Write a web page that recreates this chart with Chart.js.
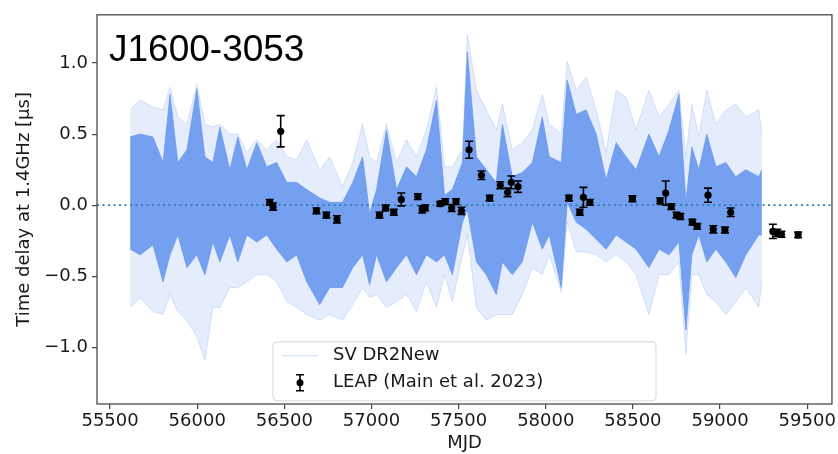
<!DOCTYPE html>
<html>
<head>
<meta charset="utf-8">
<script src="https://cdn.jsdelivr.net/npm/chart.js@4.4.1/dist/chart.umd.min.js"></script>
<style>
  html, body { margin: 0; padding: 0; background: #fff; }
  #wrap { width: 838px; height: 454px; }
</style>
</head>
<body>
<div id="wrap"><canvas id="delayChart" width="838" height="454"></canvas></div>
<script>
const bandMjd = [55615, 55672, 55746, 55804, 55844, 55889, 55941, 55998, 56044, 56090,
  56130, 56187, 56233, 56285, 56342, 56399, 56456, 56514, 56571, 56628,
  56703, 56760, 56834, 56892, 56949, 56989, 57029, 57086, 57144, 57201,
  57258, 57315, 57373, 57419, 57464, 57522, 57550, 57602, 57659, 57716,
  57751, 57808, 57865, 57923, 57980, 58020, 58089, 58123, 58175, 58232,
  58289, 58346, 58404, 58461, 58518, 58592, 58650, 58707, 58764, 58804,
  58838, 58878, 58924, 58976, 59033, 59090, 59148, 59222, 59240];
const faintUpper = [0.67, 0.74, 0.69, 0.67, 0.83, 0.62, 0.57, 0.85, 0.57, 0.55,
  0.57, 0.50, 0.50, 0.37, 0.46, 0.39, 0.46, 0.34, 0.32, 0.46,
  0.25, 0.34, 0.13, 0.30, 0.57, 0.34, 0.30, 0.57, 0.30, 0.46,
  0.34, 0.53, 0.83, 0.27, 0.27, 0.39, 1.20, 0.81, 0.67, 0.53,
  0.71, 0.39, 0.44, 0.53, 0.78, 0.57, 0.50, 1.01, 0.81, 0.90,
  0.67, 0.37, 0.81, 0.76, 0.53, 0.81, 0.62, 0.71, 0.81, 0.34,
  0.71, 0.48, 0.81, 0.57, 0.67, 0.71, 0.62, 0.67, 0.50];
const denseUpper = [0.48, 0.50, 0.48, 0.30, 0.78, 0.30, 0.39, 0.82, 0.34, 0.30,
  0.55, 0.25, 0.48, 0.25, 0.44, 0.27, 0.30, 0.16, 0.16, 0.11,
  0.05, 0.02, 0.02, 0.16, 0.34, -0.06, 0.11, 0.53, 0.11, 0.27,
  0.20, 0.39, 0.74, 0.07, 0.11, 0.30, 1.08, 0.34, 0.25, 0.16,
  0.57, 0.20, 0.23, 0.30, 0.62, 0.34, 0.30, 0.88, 0.64, 0.67,
  0.50, 0.18, 0.44, 0.34, 0.25, 0.50, 0.34, 0.53, 0.78, 0.02,
  0.41, 0.25, 0.50, 0.27, 0.30, 0.20, 0.25, 0.20, 0.25];
const denseLower = [-0.31, -0.35, -0.28, -0.54, -0.35, -0.21, -0.44, -0.35, -0.49, -0.26,
  -0.40, -0.21, -0.40, -0.21, -0.26, -0.21, -0.31, -0.40, -0.35, -0.54,
  -0.70, -0.58, -0.58, -0.44, -0.35, -0.56, -0.35, -0.54, -0.44, -0.35,
  -0.49, -0.35, -0.40, -0.35, -0.49, -0.12, -0.03, -0.40, -0.49, -0.63,
  -0.40, -0.49, -0.40, -0.12, -0.31, -0.21, -0.58, 0.02, -0.12, -0.17,
  -0.24, -0.31, -0.21, -0.26, -0.31, -0.44, -0.31, -0.35, -0.26, -0.88,
  -0.35, -0.21, -0.40, -0.31, -0.40, -0.51, -0.35, -0.21, -0.21];
const faintLower = [-0.72, -0.65, -0.75, -0.77, -0.63, -0.75, -0.81, -0.93, -1.09, -0.72,
  -0.72, -0.58, -0.58, -0.54, -0.49, -0.49, -0.54, -0.68, -0.72, -0.77,
  -0.81, -0.77, -0.81, -0.70, -0.58, -0.65, -0.63, -0.72, -0.68, -0.63,
  -0.75, -0.54, -0.72, -0.49, -0.68, -0.35, -0.21, -0.72, -0.81, -0.77,
  -0.77, -0.77, -0.63, -0.44, -0.49, -0.35, -0.61, -0.12, -0.33, -0.33,
  -0.35, -0.40, -0.35, -0.40, -0.49, -0.77, -0.49, -0.49, -0.40, -1.05,
  -0.49, -0.49, -0.63, -0.68, -0.77, -0.68, -0.58, -0.72, -0.54];

// LEAP (Main et al. 2023) points with 1-sigma errors
const leapMjd = [56416, 56435, 56479, 56684, 56741, 56802, 57046, 57081, 57128, 57171,
  57266, 57291, 57308, 57394, 57424, 57460, 57485, 57516, 57560, 57631,
  57678, 57739, 57781, 57802, 57841, 58133, 58195, 58216, 58253, 58497,
  58656, 58688, 58720, 58750, 58772, 58841, 58869, 58931, 58961, 59028,
  59061, 59303, 59328, 59352, 59448];
const leapDelay = [0.02, -0.01, 0.52, -0.04, -0.07, -0.10, -0.07, -0.02, -0.05, 0.04,
  0.06, -0.03, -0.02, 0.01, 0.025, -0.02, 0.025, -0.04, 0.39, 0.21,
  0.05, 0.14, 0.09, 0.16, 0.13, 0.05, -0.05, 0.055, 0.02, 0.045,
  0.03, 0.085, -0.01, -0.07, -0.08, -0.12, -0.15, 0.07, -0.17, -0.175,
  -0.05, -0.185, -0.195, -0.205, -0.21];
const leapErr = [0.02, 0.025, 0.11, 0.02, 0.02, 0.025, 0.02, 0.02, 0.02, 0.045,
  0.02, 0.025, 0.02, 0.015, 0.02, 0.025, 0.02, 0.025, 0.06, 0.03,
  0.02, 0.025, 0.03, 0.045, 0.04, 0.02, 0.02, 0.07, 0.02, 0.02,
  0.02, 0.085, 0.02, 0.02, 0.02, 0.02, 0.02, 0.05, 0.025, 0.02,
  0.03, 0.05, 0.025, 0.02, 0.02];

const xTickValues = [55500, 56000, 56500, 57000, 57500, 58000, 58500, 59000, 59500];
const yTickValues = [-1.0, -0.5, 0.0, 0.5, 1.0];
const xRange = [55425, 59642];
const yRange = [-1.40, 1.34];

const BLUE = '100, 149, 237';
const FONT = "'DejaVu Sans', sans-serif";

const toPts = (ys) => bandMjd.map((m, i) => ({ x: m, y: ys[i] }));

const errorBars = {
    id: 'errorBars',
    afterDatasetsDraw(chart) {
        const ctx = chart.ctx;
        const xs = chart.scales.x, ys = chart.scales.y;
        ctx.save();
        ctx.strokeStyle = '#000';
        ctx.lineWidth = 1.6;
        leapMjd.forEach((m, i) => {
            const px = xs.getPixelForValue(m);
            const top = ys.getPixelForValue(leapDelay[i] + leapErr[i]);
            const bot = ys.getPixelForValue(leapDelay[i] - leapErr[i]);
            ctx.beginPath();
            ctx.moveTo(px, top); ctx.lineTo(px, bot);
            ctx.moveTo(px - 4, top); ctx.lineTo(px + 4, top);
            ctx.moveTo(px - 4, bot); ctx.lineTo(px + 4, bot);
            ctx.stroke();
        });
        ctx.restore();
    }
};

// frame, pulsar name and legend box
const decorations = {
    id: 'decorations',
    afterDraw(chart) {
        const ctx = chart.ctx;
        const a = chart.chartArea;
        ctx.save();
        ctx.strokeStyle = '#4a4a4a';
        ctx.lineWidth = 1.3;
        ctx.strokeRect(a.left, a.top, a.right - a.left, a.bottom - a.top);

        ctx.fillStyle = '#000';
        ctx.font = "37px 'Liberation Sans', Arial, sans-serif";
        ctx.textBaseline = 'alphabetic';
        ctx.fillText('J1600-3053', a.left + 12, a.top + 46);

        // legend
        const lx = a.left + 176, ly = a.top + 327, lw = 383, lh = 59;
        ctx.beginPath();
        ctx.roundRect(lx, ly, lw, lh, 4);
        ctx.fillStyle = 'rgba(255,255,255,0.8)';
        ctx.fill();
        ctx.strokeStyle = '#d6d6d6';
        ctx.lineWidth = 1;
        ctx.stroke();

        ctx.strokeStyle = 'rgba(' + BLUE + ', 0.35)';
        ctx.lineWidth = 1;
        ctx.beginPath();
        ctx.moveTo(lx + 9, ly + 14); ctx.lineTo(lx + 45, ly + 14);
        ctx.stroke();

        const ex = lx + 27, ey = ly + 41;
        ctx.strokeStyle = '#000';
        ctx.lineWidth = 1.6;
        ctx.beginPath();
        ctx.moveTo(ex, ey - 8); ctx.lineTo(ex, ey + 8);
        ctx.moveTo(ex - 4, ey - 8); ctx.lineTo(ex + 4, ey - 8);
        ctx.moveTo(ex - 4, ey + 8); ctx.lineTo(ex + 4, ey + 8);
        ctx.stroke();
        ctx.beginPath();
        ctx.arc(ex, ey, 3.5, 0, Math.PI * 2);
        ctx.fillStyle = '#000';
        ctx.fill();

        ctx.fillStyle = '#1a1a1a';
        ctx.font = '18px ' + FONT;
        ctx.textBaseline = 'middle';
        ctx.fillText('SV DR2New', lx + 60, ly + 14);
        ctx.fillText('LEAP (Main et al. 2023)', lx + 60, ly + 41);
        ctx.restore();
    }
};

new Chart(document.getElementById('delayChart').getContext('2d'), {
    type: 'line',
    data: {
        datasets: [
            {
                label: 'LEAP (Main et al. 2023)',
                data: leapMjd.map((m, i) => ({ x: m, y: leapDelay[i] })),
                showLine: false,
                pointRadius: 3.6,
                pointBackgroundColor: '#000',
                pointBorderColor: '#000',
                borderWidth: 0,
                order: 0
            },
            {
                label: 'zero',
                data: [{ x: xRange[0], y: 0 }, { x: xRange[1], y: 0 }],
                borderColor: '#2b7bb0',
                borderWidth: 1.8,
                borderDash: [2, 3.5],
                pointRadius: 0,
                order: 1
            },
            {
                label: 'SV DR2New core top',
                data: toPts(denseUpper),
                borderColor: 'rgba(' + BLUE + ', 0.9)',
                borderWidth: 0.8,
                backgroundColor: 'rgba(' + BLUE + ', 0.88)',
                fill: 3,
                pointRadius: 0,
                order: 2
            },
            {
                label: 'SV DR2New core bottom',
                data: toPts(denseLower),
                borderColor: 'rgba(' + BLUE + ', 0.9)',
                borderWidth: 0.8,
                pointRadius: 0,
                order: 2
            },
            {
                label: 'SV DR2New spread top',
                data: toPts(faintUpper),
                borderColor: 'rgba(' + BLUE + ', 0.3)',
                borderWidth: 0.8,
                backgroundColor: 'rgba(' + BLUE + ', 0.17)',
                fill: 5,
                pointRadius: 0,
                order: 3
            },
            {
                label: 'SV DR2New spread bottom',
                data: toPts(faintLower),
                borderColor: 'rgba(' + BLUE + ', 0.3)',
                borderWidth: 0.8,
                pointRadius: 0,
                order: 3
            }
        ]
    },
    options: {
        responsive: false,
        animation: false,
        layout: { padding: { top: 9, right: 5, left: 0, bottom: 0 } },
        plugins: {
            legend: { display: false },
            tooltip: { enabled: false },
            filler: { propagate: false }
        },
        elements: { line: { tension: 0 } },
        scales: {
            x: {
                type: 'linear',
                min: xRange[0],
                max: xRange[1],
                afterFit: (scale) => { scale.height = 50; },
                afterBuildTicks: (scale) => { scale.ticks = xTickValues.map(v => ({ value: v })); },
                border: { display: false },
                grid: { drawOnChartArea: false, drawTicks: true, tickLength: 5, color: '#444', lineWidth: 1.2 },
                ticks: {
                    padding: 2,
                    color: '#1a1a1a',
                    font: { family: FONT, size: 18 },
                    maxRotation: 0,
                    callback: (v) => String(v)
                },
                title: {
                    display: true,
                    text: 'MJD',
                    color: '#1a1a1a',
                    font: { family: FONT, size: 18 },
                    padding: { top: 0, bottom: 0 }
                }
            },
            y: {
                type: 'linear',
                min: yRange[0],
                max: yRange[1],
                afterFit: (scale) => { scale.width = 97; },
                afterBuildTicks: (scale) => { scale.ticks = yTickValues.map(v => ({ value: v })); },
                border: { display: false },
                grid: { drawOnChartArea: false, drawTicks: true, tickLength: 5, color: '#444', lineWidth: 1.2 },
                ticks: {
                    padding: 4,
                    color: '#1a1a1a',
                    font: { family: FONT, size: 18 },
                    callback: (v) => v.toFixed(1).replace('-', '\u2212')
                },
                title: {
                    display: true,
                    text: 'Time delay at 1.4GHz [\u03bcs]',
                    color: '#1a1a1a',
                    font: { family: FONT, size: 18 },
                    padding: { top: 14, bottom: 0 }
                }
            }
        }
    },
    plugins: [errorBars, decorations]
});
</script>
</body>
</html>
